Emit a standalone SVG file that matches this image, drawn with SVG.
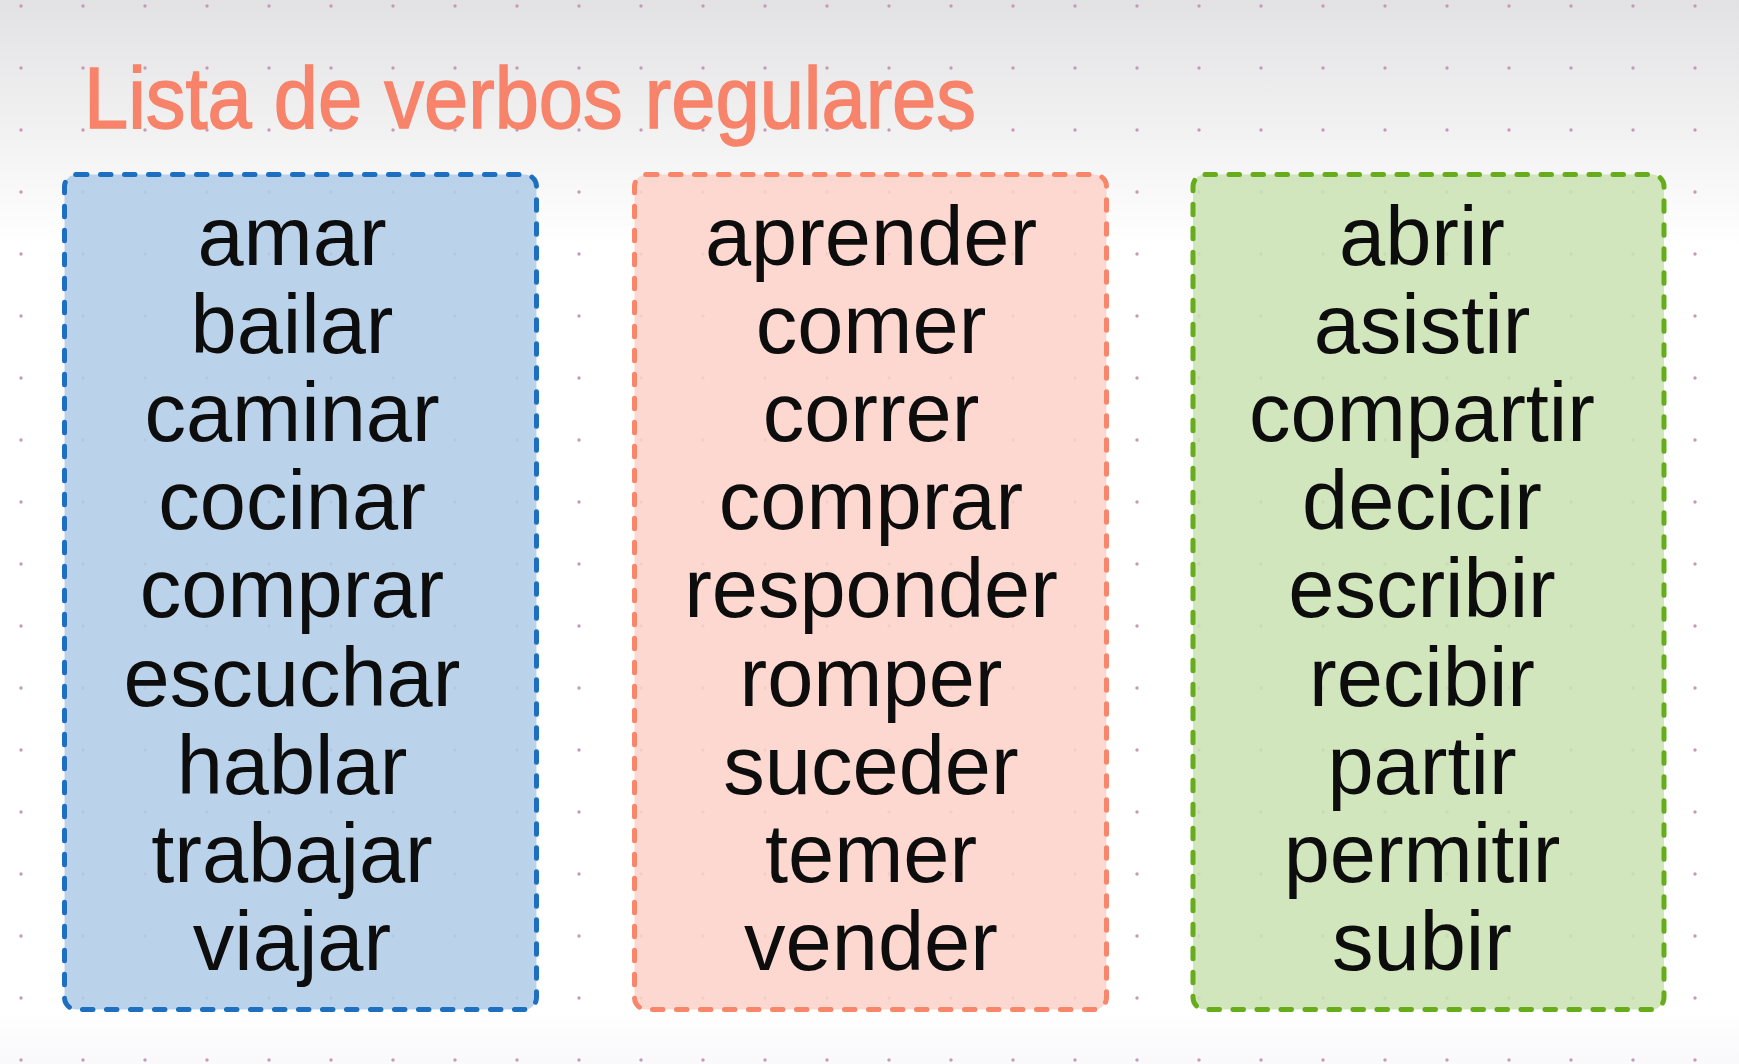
<svg xmlns="http://www.w3.org/2000/svg" width="1739" height="1064" viewBox="0 0 1739 1064">
  <defs>
    <linearGradient id="bg" x1="0" y1="0" x2="0" y2="1064" gradientUnits="userSpaceOnUse">
      <stop offset="0" stop-color="#e2e2e4"/>
      <stop offset="0.2" stop-color="#fbfbfb"/>
      <stop offset="0.23" stop-color="#ffffff"/>
      <stop offset="0.95" stop-color="#ffffff"/>
      <stop offset="1" stop-color="#f9f8fa"/>
    </linearGradient>
    <pattern id="dots" x="0" y="0" width="62" height="62" patternUnits="userSpaceOnUse">
      <circle cx="21" cy="6" r="1.7" fill="#c49ab5"/>
    </pattern>
  </defs>
  <style>
    .box { stroke-width: 5; stroke-dasharray: 10.5 13.5; stroke-linecap: round; fill-opacity: 0.88; }
    .word { font-family: "Liberation Sans", Arial, sans-serif; font-size: 83px; fill: #0d0d0d; text-anchor: middle; }
    .title { font-family: "Liberation Sans", Arial, sans-serif; font-size: 88px; fill: #f7836a; stroke: #f7836a; stroke-width: 1.5; }
  </style>
  <rect x="0" y="0" width="1739" height="1064" fill="url(#bg)"/>
  <rect x="0" y="0" width="1739" height="1064" fill="url(#dots)"/>

  <g id="title">
    <text class="title" x="84" y="128" textLength="892" lengthAdjust="spacingAndGlyphs">Lista de verbos regulares</text>
  </g>

  <g id="col-ar">
    <rect class="box" x="64.5" y="174.5" width="472" height="835" rx="12" fill="#b2cde7" stroke="#1f6fc0"/>
    <text class="word" x="292" y="265">amar</text>
    <text class="word" x="292" y="353">bailar</text>
    <text class="word" x="292" y="441">caminar</text>
    <text class="word" x="292" y="529">cocinar</text>
    <text class="word" x="292" y="617">comprar</text>
    <text class="word" x="292" y="705.5">escuchar</text>
    <text class="word" x="292" y="793.5">hablar</text>
    <text class="word" x="292" y="881.5">trabajar</text>
    <text class="word" x="292" y="970">viajar</text>
  </g>

  <g id="col-er">
    <rect class="box" x="634.5" y="174.5" width="472" height="835" rx="12" fill="#fdd3c9" stroke="#f7866a"/>
    <text class="word" x="871" y="265">aprender</text>
    <text class="word" x="871" y="353">comer</text>
    <text class="word" x="871" y="441">correr</text>
    <text class="word" x="871" y="529">comprar</text>
    <text class="word" x="871" y="617">responder</text>
    <text class="word" x="871" y="705.5">romper</text>
    <text class="word" x="871" y="793.5">suceder</text>
    <text class="word" x="871" y="881.5">temer</text>
    <text class="word" x="871" y="970">vender</text>
  </g>

  <g id="col-ir">
    <rect class="box" x="1193" y="174.5" width="471" height="835" rx="12" fill="#cbe2b4" stroke="#66ac1b"/>
    <text class="word" x="1422" y="265">abrir</text>
    <text class="word" x="1422" y="353">asistir</text>
    <text class="word" x="1422" y="441">compartir</text>
    <text class="word" x="1422" y="529">decicir</text>
    <text class="word" x="1422" y="617">escribir</text>
    <text class="word" x="1422" y="705.5">recibir</text>
    <text class="word" x="1422" y="793.5">partir</text>
    <text class="word" x="1422" y="881.5">permitir</text>
    <text class="word" x="1422" y="970">subir</text>
  </g>

  <g id="connectors"></g>
</svg>
